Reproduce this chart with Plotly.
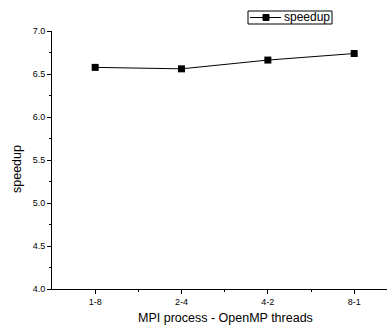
import plotly.graph_objects as go

categories = ["1-8", "2-4", "4-2", "8-1"]
speedup = [6.577, 6.56, 6.662, 6.738]
series_name = "speedup"
x_title = "MPI process - OpenMP threads"
y_title = "speedup"

xs = list(range(len(categories)))

W, H = 387, 326
L, R, T, B = 52, 0, 31, 37
PW, PH = W - L - R, H - T - B


def px(x):
    return (x - L) / PW


def py(y):
    return (H - B - y) / PH


fig = go.Figure()
fig.add_trace(go.Scatter(
    x=xs, y=speedup, mode="lines+markers", name=series_name,
    line=dict(color="black", width=1),
    marker=dict(symbol="square", size=7, color="black"),
    showlegend=False,
))

fam = "Liberation Sans, Arial, sans-serif"
tickfont = dict(family=fam, size=9, color="black")

fig.update_layout(
    width=W, height=H,
    margin=dict(l=L, r=R, t=T, b=B),
    paper_bgcolor="white", plot_bgcolor="white",
    font=dict(family=fam, size=9, color="black"),
    showlegend=False,
)
fig.update_xaxes(
    range=[-0.5, 3.38], tickmode="array", tickvals=xs, ticktext=categories,
    showgrid=False, zeroline=False, showline=True, linecolor="black", linewidth=1,
    ticks="outside", ticklen=4, tickcolor="black",
    minor=dict(tickmode="array", tickvals=[0.5, 1.5, 2.5], ticks="outside", ticklen=2, tickcolor="black"),
    tickfont=tickfont,
)
fig.update_yaxes(
    range=[4.0, 7.0], dtick=0.5, tickformat=".1f",
    showgrid=False, zeroline=False, showline=True, linecolor="black", linewidth=1,
    ticks="outside", ticklen=4, tickcolor="black",
    minor=dict(dtick=0.25, ticks="outside", ticklen=2, tickcolor="black"),
    tickfont=tickfont,
)

# axis titles
fig.add_annotation(text=x_title, xref="paper", yref="paper", x=px(225), y=py(318),
                   showarrow=False, xanchor="center", yanchor="middle",
                   font=dict(family=fam, size=12.5, color="black"))
fig.add_annotation(text=y_title, xref="paper", yref="paper", x=px(17), y=py(169),
                   showarrow=False, xanchor="center", yanchor="middle", textangle=-90,
                   font=dict(family=fam, size=12.5, color="black"))

# legend box
fig.add_shape(type="rect", xref="paper", yref="paper",
              x0=px(248), x1=px(332), y0=py(11), y1=py(24),
              line=dict(color="black", width=1), fillcolor="white", layer="above")
fig.add_shape(type="line", xref="paper", yref="paper",
              x0=px(250), x1=px(281), y0=py(17.5), y1=py(17.5),
              line=dict(color="black", width=1), layer="above")
fig.add_shape(type="rect", xref="paper", yref="paper",
              x0=px(263), x1=px(269), y0=py(14.5), y1=py(20.5),
              line=dict(color="black", width=1), fillcolor="black", layer="above")
fig.add_annotation(text=series_name, xref="paper", yref="paper", x=px(283), y=py(17.5),
                   showarrow=False, xanchor="left", yanchor="middle",
                   font=dict(family=fam, size=12, color="black"), borderpad=0)

fig.write_html("out.html", config={"displayModeBar": False},
               post_script="document.body.style.margin='0px';")
